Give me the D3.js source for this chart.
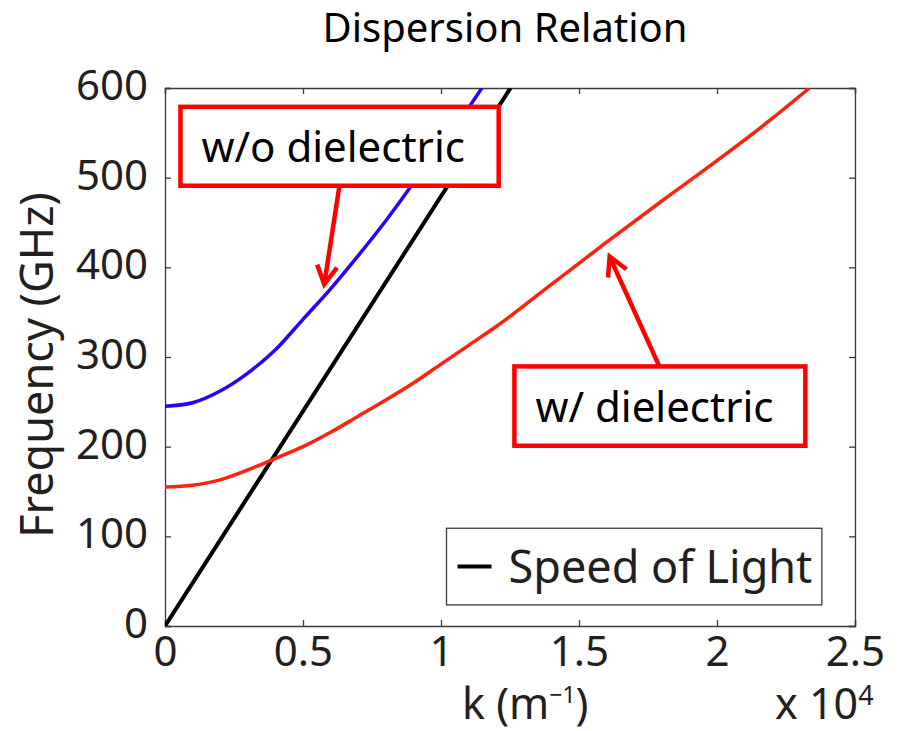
<!DOCTYPE html>
<html>
<head>
<meta charset="utf-8">
<script src="https://cdn.jsdelivr.net/npm/d3@7"></script>
<style>
  body { margin: 0; background: #fff; }
  svg text { font-family: "Noto Sans", "Open Sans", sans-serif; }
</style>
</head>
<body>
<svg id="chart" width="905" height="731"></svg>
<script>
// wavenumber k in units of 1e4 m^-1, frequency in GHz
const kBlue = [0, 0.1, 0.2, 0.3, 0.4, 0.5, 0.6, 0.7, 0.8, 0.9, 1.0, 1.1, 1.148];
const fBlue = [245, 249, 262, 282, 308, 342, 376, 413, 452, 494, 536, 578, 600];

const kRed = [0, 0.1, 0.2, 0.3, 0.4, 0.5, 0.6, 0.7, 0.8, 0.9, 1.0, 1.1, 1.2, 1.4, 1.6, 1.8, 2.0, 2.2, 2.335];
const fRed = [155, 157, 163, 174, 187, 200, 216, 234, 252, 271, 292, 313, 334, 381, 428, 474, 519, 566, 600];

const kLight = [0, 1.252];
const fLight = [0, 600];

const xTicks = [0, 0.5, 1, 1.5, 2, 2.5];
const xTickLabels = ["0", "0.5", "1", "1.5", "2", "2.5"];
const yTicks = [0, 100, 200, 300, 400, 500, 600];

const legendLabel = "Speed of Light";

// annotation boxes, in data units
const notes = [
    {text: "w/o dielectric", box: [0.056, 579, 1.209, 491], from: [0.632, 491], tip: [0.577, 381]},
    {text: "w/ dielectric", box: [1.266, 289.5, 2.32, 201], from: [1.791, 289.5], tip: [1.611, 412]}
];

const svg = d3.select("#chart");
const margin = {left: 165, right: 50, top: 88, bottom: 105};
const width = 905 - margin.left - margin.right;
const height = 731 - margin.top - margin.bottom;

const x = d3.scaleLinear().domain([0, 2.5]).range([margin.left, margin.left + width]);
const y = d3.scaleLinear().domain([0, 600]).range([margin.top + height, margin.top]);

const axisColor = "#3a3a3a";
const labelColor = "#231f20";

// title
svg.append("text")
    .attr("x", 505)
    .attr("y", 42)
    .attr("text-anchor", "middle")
    .attr("font-size", 40)
    .attr("fill", "#000")
    .text("Dispersion Relation");

// clip for curves
svg.append("clipPath").attr("id", "plotClip")
    .append("rect")
    .attr("x", margin.left).attr("y", margin.top)
    .attr("width", width).attr("height", height);

// axes (box with inward ticks)
const tickLen = 6;
let axB = d3.axisBottom(x).tickValues(xTicks).tickSize(-tickLen).tickFormat((d, i) => xTickLabels[i]).tickPadding(11);
let axL = d3.axisLeft(y).tickValues(yTicks).tickSize(-tickLen).tickPadding(17);
let axT = d3.axisTop(x).tickValues(xTicks).tickSize(-tickLen).tickFormat("");
let axR = d3.axisRight(y).tickValues(yTicks).tickSize(-tickLen).tickFormat("");

let gB = svg.append("g").attr("transform", `translate(0,${margin.top + height})`).call(axB);
let gL = svg.append("g").attr("transform", `translate(${margin.left},0)`).call(axL);
let gT = svg.append("g").attr("transform", `translate(0,${margin.top})`).call(axT);
let gR = svg.append("g").attr("transform", `translate(${margin.left + width},0)`).call(axR);

[gB, gL, gT, gR].forEach(function (g) {
    g.select(".domain").attr("stroke", axisColor).attr("stroke-width", 1.3);
    g.selectAll(".tick line").attr("stroke", axisColor).attr("stroke-width", 1.3);
    g.selectAll(".tick text")
        .attr("fill", labelColor)
        .attr("font-size", 42)
        .style("font-family", "'Noto Sans', sans-serif");
});
gL.selectAll(".tick text").attr("dy", "0.27em");
gB.selectAll(".tick text").attr("dy", "0.7em");

// curves
let line = d3.line()
    .x(d => x(d[0]))
    .y(d => y(d[1]))
    .curve(d3.curveMonotoneX);

const series = [
    {k: kLight, f: fLight, color: "#000000", w: 4},
    {k: kBlue, f: fBlue, color: "#2c00ff", w: 3.5},
    {k: kRed, f: fRed, color: "#ff2210", w: 3.5}
];

let curvesG = svg.append("g").attr("clip-path", "url(#plotClip)");
curvesG.selectAll("path.curve")
    .data(series)
    .enter()
    .append("path")
    .attr("class", "curve")
    .attr("fill", "none")
    .attr("stroke", d => d.color)
    .attr("stroke-width", d => d.w)
    .attr("stroke-linejoin", "round")
    .attr("d", function (d) {
        return line(d.k.map((v, i) => [v, d.f[i]]));
    });

// legend
let legendG = svg.append("g");
let lgX0 = x(1.02), lgX1 = x(2.38), lgY0 = y(109), lgY1 = y(23.5);
legendG.append("rect")
    .attr("x", lgX0).attr("y", lgY0)
    .attr("width", lgX1 - lgX0).attr("height", lgY1 - lgY0)
    .attr("fill", "#fff")
    .attr("stroke", axisColor)
    .attr("stroke-width", 1.3);
legendG.append("line")
    .attr("x1", lgX0 + 11).attr("x2", lgX0 + 45)
    .attr("y1", (lgY0 + lgY1) / 2).attr("y2", (lgY0 + lgY1) / 2)
    .attr("stroke", "#000").attr("stroke-width", 4);
legendG.append("text")
    .attr("x", lgX0 + 62)
    .attr("y", (lgY0 + lgY1) / 2 + 16)
    .attr("font-size", 45)
    .attr("fill", labelColor)
    .text(legendLabel);

// axis labels
svg.append("text")
    .attr("transform", `translate(53,${margin.top + height / 2 + 8}) rotate(-90)`)
    .attr("text-anchor", "middle")
    .attr("font-size", 45)
    .attr("fill", labelColor)
    .text("Frequency (GHz)");

let xl = svg.append("text")
    .attr("x", 462)
    .attr("y", 719)
    .attr("font-size", 43)
    .attr("fill", labelColor);
xl.append("tspan").text("k (m");
xl.append("tspan").attr("font-size", 23).attr("dy", -16).text("\u22121");
xl.append("tspan").attr("dy", 16).text(")");

let xm = svg.append("text")
    .attr("x", 775)
    .attr("y", 719)
    .attr("font-size", 43)
    .attr("fill", labelColor);
xm.append("tspan").text("x 10");
xm.append("tspan").attr("font-size", 27).attr("dy", -14).text("4");

// annotations
let noteG = svg.append("g");
notes.forEach(function (n) {
    let bx0 = x(n.box[0]), by0 = y(n.box[1]), bx1 = x(n.box[2]), by1 = y(n.box[3]);
    noteG.append("rect")
        .attr("x", bx0).attr("y", by0)
        .attr("width", bx1 - bx0).attr("height", by1 - by0)
        .attr("fill", "#fff")
        .attr("stroke", "#ff0000")
        .attr("stroke-width", 4.5);
    noteG.append("text")
        .attr("x", bx0 + 21)
        .attr("y", by1 - 24)
        .attr("font-size", 42)
        .attr("fill", "#000")
        .text(n.text);

    let sx = x(n.from[0]), sy = y(n.from[1]), tx = x(n.tip[0]), ty = y(n.tip[1]);
    noteG.append("line")
        .attr("x1", sx).attr("y1", sy).attr("x2", tx).attr("y2", ty)
        .attr("stroke", "#ff0000").attr("stroke-width", 4.5);
    // open arrow head
    let ang = Math.atan2(ty - sy, tx - sx);
    let hl = 21, spread = 0.5;
    let p1 = [tx - hl * Math.cos(ang - spread), ty - hl * Math.sin(ang - spread)];
    let p2 = [tx - hl * Math.cos(ang + spread), ty - hl * Math.sin(ang + spread)];
    noteG.append("path")
        .attr("d", `M${p1[0]},${p1[1]} L${tx},${ty} L${p2[0]},${p2[1]}`)
        .attr("fill", "none")
        .attr("stroke", "#ff0000")
        .attr("stroke-width", 4.5)
        .attr("stroke-linejoin", "miter");
});
</script>
</body>
</html>
